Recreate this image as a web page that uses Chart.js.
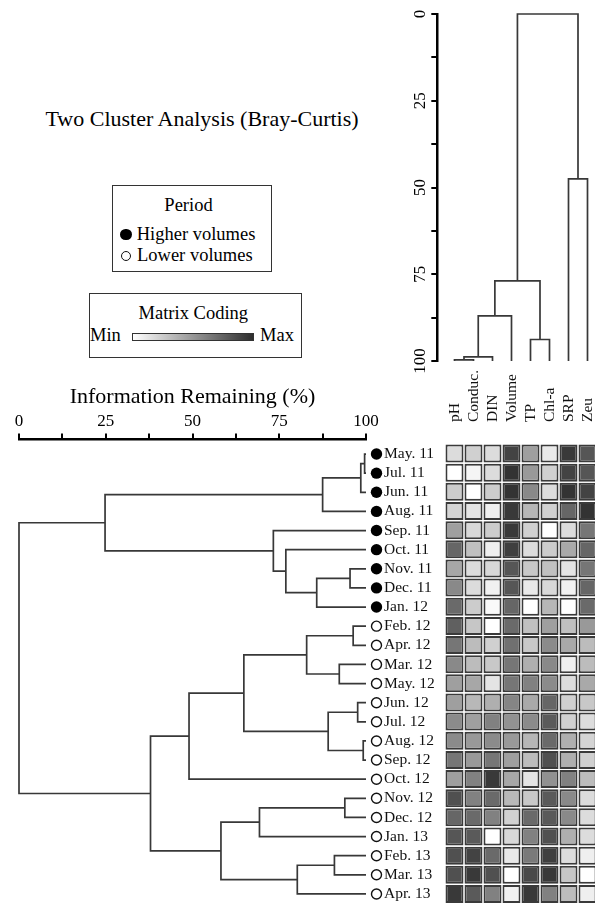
<!DOCTYPE html>
<html>
<head>
<meta charset="utf-8">
<script src="https://cdn.jsdelivr.net/npm/chart.js@4.4.1/dist/chart.umd.min.js"></script>
<style>
html,body{margin:0;padding:0;background:#fff;overflow:hidden;width:595px;height:904px;}
body{position:relative;font-family:'Liberation Serif','Times New Roman',serif;color:#000;}
canvas{position:absolute;}
.t{position:absolute;white-space:nowrap;line-height:1;}
.box{position:absolute;border:1.5px solid #333;}
.dot{position:absolute;border-radius:50%;box-sizing:border-box;}
</style>
</head>
<body>
<div class="t" style="left:0;width:404px;top:108px;font-size:22px;text-align:center">Two Cluster Analysis (Bray-Curtis)</div>

<div class="box" style="left:112px;top:185px;width:158px;height:85px"></div>
<div class="t" style="left:188.5px;top:195.6px;font-size:18.5px;transform:translateX(-50%)">Period</div>
<div class="dot" style="left:120px;top:228.7px;width:11.6px;height:11.6px;background:#000"></div>
<div class="t" style="left:136.7px;top:224.8px;font-size:18.5px">Higher volumes</div>
<div class="dot" style="left:121px;top:251px;width:10px;height:10px;border:1.3px solid #111"></div>
<div class="t" style="left:137px;top:246.1px;font-size:18.5px">Lower volumes</div>

<div class="box" style="left:89px;top:292.7px;width:211.3px;height:63.6px"></div>
<div class="t" style="left:193.3px;top:304.1px;font-size:18.5px;transform:translateX(-50%)">Matrix Coding</div>
<div class="t" style="left:90px;top:326.4px;font-size:18.5px">Min</div>
<div style="position:absolute;left:132.3px;top:333.3px;width:119.7px;height:5.4px;border:1.5px solid #333;background:linear-gradient(to right,#ffffff,#2e2e2e)"></div>
<div class="t" style="left:260px;top:326.4px;font-size:18.5px">Max</div>

<canvas id="colDendro" width="220" height="400" style="left:380px;top:0px"></canvas>
<canvas id="rowDendro" width="440" height="534" style="left:0px;top:370px"></canvas>
<canvas id="heat" width="160" height="544" style="left:440px;top:360px"></canvas>

<script>
// ---------------- DATA ----------------
const rowLabels = ['May. 11','Jul. 11','Jun. 11','Aug. 11','Sep. 11','Oct. 11','Nov. 11','Dec. 11','Jan. 12',
  'Feb. 12','Apr. 12','Mar. 12','May. 12','Jun. 12','Jul. 12','Aug. 12','Sep. 12','Oct. 12',
  'Nov. 12','Dec. 12','Jan. 13','Feb. 13','Mar. 13','Apr. 13'];
const rowPeriod = ['Higher','Higher','Higher','Higher','Higher','Higher','Higher','Higher','Higher',
  'Lower','Lower','Lower','Lower','Lower','Lower','Lower','Lower','Lower',
  'Lower','Lower','Lower','Lower','Lower','Lower'];
const colLabels = ['pH','Conduc.','DIN','Volume','TP','Chl-a','SRP','Zeu'];

// Information remaining axis ticks (%)
const infoTicks = [0, 12.5, 25, 37.5, 50, 62.5, 75, 87.5, 100];

// Row (sample) dendrogram merges: negative = leaf index+1, positive = earlier merge number
const rowMergeA =      [-1, -16,  1, -14, -10, -7, -19, -12, -22,  4,  3,  6,  5,   9, -6, -5,  7, 13, 17, 18, 20, 11, 22];
const rowMergeB =      [-2, -17, -3, -15, -11, -8, -20, -13, -23,  2, -4, -9,  8, -24, 12, 15,-21, 10, 14,-18, 19, 16, 21];
const rowMergeHeight = [99.6, 99.2, 98.5, 97.6, 96.3, 95.4, 93.9, 92.3, 90.9, 89.1, 87.5, 85.8, 82.9, 80.2,
                        76.9, 73.3, 69.3, 64.8, 58.2, 49.0, 37.9, 24.8, 0];

// Column (variable) dendrogram merges
const colMergeA =      [-1,  1, -5,  2,  4, -7, 5];
const colMergeB =      [-2, -3, -6, -4,  3, -8, 6];
const colMergeHeight = [99.7, 98.8, 93.8, 87.0, 76.9, 47.5, 0];

// Matrix coding (relative level 0 = min, 100 = max), rows in leaf order
const pH      = [17, 0,25,21,47,75,43,58,73,78,67,58,47,47,57,57,67,47,86,75,83,86,86,97];
const conduc  = [23, 5, 0,13,19,31,17,17,25,28,33,33,43,35,47,50,50,62,62,73,81,92,97,81];
const din     = [17,17,25, 8,25, 8,19, 7, 3, 0,23,27,13,39,62,57,67,97,73,62, 0,73,86,62];
const volume  = [92,100,100,97,97,94,83,83,75,73,70,67,67,60,54,50,47,43,35,23,19,11, 0, 7];
const tp      = [47,50,58,36,23,17,27,11, 0,31,27,39,62,42,57,36,33,13,27,73,62,65,89,97];
const chla    = [11,23,17,23, 0,25,31,19,36,47,57,58,57,75,81,73,86,54,81,81,86,94,97,62];
const srp     = [97,92,100,75,17,42,13, 7, 0,31,42, 8,17,23,23,39,39,62,58,58,39,17,28,33];
const zeu     = [83,83,92,100,67,75,67,75,73,50,33,33,42,27,17,21,23,33,17,17,17, 8, 0, 8];
const matrixColumns = [pH, conduc, din, volume, tp, chla, srp, zeu];

// ---------------- HELPERS ----------------
Chart.defaults.font.family = "'Liberation Serif','Times New Roman',serif";
const LEAF_LEVEL = 100;
const lineColor = '#383838';

function buildDendro(mA, mB, mH) {
  const pos = [], segs = [];
  for (let k = 0; k < mA.length; k++) {
    const a = mA[k], b = mB[k];
    const pa = a < 0 ? -a - 1 : pos[a - 1];
    const pb = b < 0 ? -b - 1 : pos[b - 1];
    const ha = a < 0 ? LEAF_LEVEL : mH[a - 1];
    const hb = b < 0 ? LEAF_LEVEL : mH[b - 1];
    const h = mH[k];
    pos[k] = (pa + pb) / 2;
    segs.push([[ha, pa], [h, pa], [h, pb], [hb, pb]]);
  }
  return segs;
}
function gray(v) {
  const g = Math.round(255 - v * 2.04);
  return `rgb(${g},${g},${g})`;
}
function zeroPad(s) { s.paddingLeft = 0; s.paddingRight = 0; s.paddingTop = 0; s.paddingBottom = 0; }
const lineDs = (pts) => ({
  data: pts, showLine: true, borderColor: lineColor, borderWidth: 1.7,
  pointRadius: 0, fill: false, tension: 0, clip: false
});

// ---------------- ROW DENDROGRAM ----------------
const rowSegs = buildDendro(rowMergeA, rowMergeB, rowMergeHeight);
const markerPlugin = {
  id: 'rowMarkers',
  afterDatasetsDraw(chart) {
    const {ctx, chartArea, scales} = chart;
    ctx.save();
    rowPeriod.forEach((p, i) => {
      const cy = scales.y.getPixelForValue(i);
      const cx = chartArea.right + 10.5;
      ctx.beginPath();
      if (p === 'Higher') {
        ctx.arc(cx, cy, 5.7, 0, Math.PI * 2);
        ctx.fillStyle = '#000';
        ctx.fill();
      } else {
        ctx.arc(cx, cy, 5, 0, Math.PI * 2);
        ctx.lineWidth = 1.4;
        ctx.strokeStyle = '#111';
        ctx.stroke();
      }
    });
    ctx.restore();
  }
};
new Chart(document.getElementById('rowDendro'), {
  type: 'scatter',
  data: { datasets: rowSegs.map(s => lineDs(s.map(([h, p]) => ({x: h, y: p})))) },
  options: {
    responsive: false, animation: false, devicePixelRatio: 1, events: [],
    layout: {padding: {left: 19, right: 0, top: 0, bottom: 0.5}},
    plugins: {legend: {display: false}, tooltip: {enabled: false}},
    scales: {
      x: {
        type: 'linear', position: 'top', min: 0, max: 100,
        afterBuildTicks(s) { s.ticks = infoTicks.map(v => ({value: v})); },
        ticks: {callback: v => (v % 25 === 0 ? String(v) : ''), font: {size: 17}, color: '#000',
                padding: 1.3, autoSkip: false, maxRotation: 0},
        grid: {display: true, drawOnChartArea: false, drawTicks: true, tickLength: 6, color: '#000', lineWidth: 2},
        border: {display: true, color: '#000', width: 2.5},
        title: {display: true, text: 'Information Remaining (%)', font: {size: 22}, color: '#000',
                padding: {top: 13.8, bottom: 0}},
        afterFit(s) { s.height = 69.5; zeroPad(s); }
      },
      y: {
        type: 'linear', position: 'right', reverse: true, min: -0.76, max: 23.5,
        afterBuildTicks(s) { s.ticks = rowLabels.map((_, i) => ({value: i})); },
        ticks: {callback: v => rowLabels[v], font: {size: 15.5}, color: '#111', padding: 18, autoSkip: false},
        grid: {display: false, drawTicks: false},
        border: {display: false},
        afterFit(s) { s.width = 74; zeroPad(s); }
      }
    }
  },
  plugins: [markerPlugin]
});

// ---------------- COLUMN DENDROGRAM ----------------
const colSegs = buildDendro(colMergeA, colMergeB, colMergeHeight);
new Chart(document.getElementById('colDendro'), {
  type: 'scatter',
  data: { datasets: colSegs.map(s => lineDs(s.map(([h, p]) => ({x: p, y: h})))) },
  options: {
    responsive: false, animation: false, devicePixelRatio: 1, events: [],
    layout: {padding: {left: 0, right: 3, top: 14, bottom: 39}},
    plugins: {legend: {display: false}, tooltip: {enabled: false}},
    scales: {
      x: {type: 'linear', display: false, min: -0.905, max: 7.5},
      y: {
        type: 'linear', position: 'left', reverse: true, min: 0, max: 100,
        afterBuildTicks(s) { s.ticks = infoTicks.map(v => ({value: v})); },
        ticks: {callback: v => (v % 25 === 0 ? String(v) : ''), font: {size: 17}, color: '#000',
                minRotation: 90, maxRotation: 90, crossAlign: 'center', padding: -1.5, autoSkip: false},
        grid: {display: true, drawOnChartArea: false, drawTicks: true, tickLength: 6, color: '#000', lineWidth: 2},
        border: {display: true, color: '#000', width: 2.5},
        afterFit(s) { s.width = 57.3; zeroPad(s); }
      }
    }
  }
});

// ---------------- HEAT MAP ----------------
new Chart(document.getElementById('heat'), {
  type: 'bar',
  data: {
    labels: colLabels,
    datasets: rowLabels.map((name, r) => ({
      label: name,
      data: colLabels.map(() => [r - 0.47, r + 0.47]),
      backgroundColor: matrixColumns.map(col => gray(col[r])),
      borderColor: '#3a3a3a', borderWidth: 2, borderSkipped: false,
      grouped: false, barPercentage: 0.947, categoryPercentage: 1
    }))
  },
  options: {
    responsive: false, animation: false, devicePixelRatio: 1, events: [],
    layout: {padding: {left: 5, right: 3, top: 0, bottom: 0.5}},
    plugins: {legend: {display: false}, tooltip: {enabled: false}},
    scales: {
      x: {
        type: 'category', position: 'top', offset: true,
        grid: {display: false, drawTicks: false}, border: {display: false},
        ticks: {font: {size: 15.5}, color: '#111', minRotation: 90, maxRotation: 90,
                padding: 22, autoSkip: false, labelOffset: 18.6},
        afterFit(s) { s.height = 84; zeroPad(s); }
      },
      y: {type: 'linear', display: false, reverse: true, min: -0.5, max: 23.5}
    }
  }
});
</script>
</body>
</html>
